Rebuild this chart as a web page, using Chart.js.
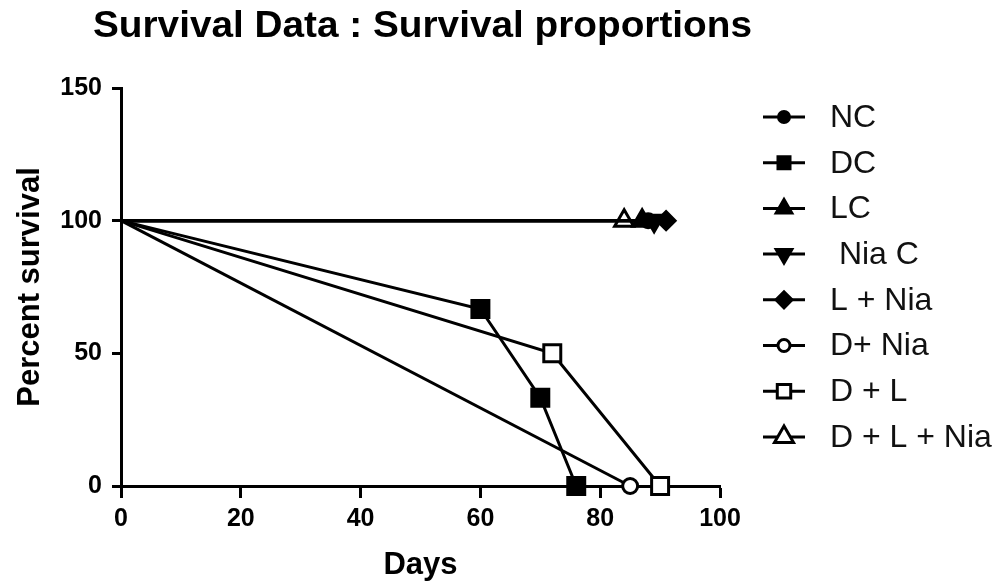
<!DOCTYPE html>
<html>
<head>
<meta charset="utf-8">
<title>Survival proportions</title>
<script src="https://cdn.jsdelivr.net/npm/chart.js@4/dist/chart.umd.min.js"></script>
<style>
  html, body { margin: 0; padding: 0; background: #fff; }
  #survivalChart { display: block; }
</style>
</head>
<body>
<canvas id="survivalChart" width="1006" height="586"></canvas>
<script>
'use strict';

const chartTitle = 'Survival Data : Survival proportions';

// series names, as in the legend
const seriesNames = ['NC', 'DC', 'LC', ' Nia C', 'L + Nia', 'D+ Nia', 'D + L', 'D + L + Nia'];

// days / percent survival for each group
const ncDays = [0, 88];
const ncSurvival = [100, 100];
const dcDays = [0, 60, 70, 76];
const dcSurvival = [100, 66.7, 33.3, 0];
const lcDays = [0, 87];
const lcSurvival = [100, 100];
const niaDays = [0, 89];
const niaSurvival = [100, 100];
const lNiaDays = [0, 91];
const lNiaSurvival = [100, 100];
const dNiaDays = [0, 85];
const dNiaSurvival = [100, 0];
const dlDays = [0, 72, 90];
const dlSurvival = [100, 50, 0];
const dlNiaDays = [0, 84];
const dlNiaSurvival = [100, 100];

// axis ticks
const xTicks = [0, 20, 40, 60, 80, 100];
const yTicks = [0, 50, 100, 150];

const FONT = 'Arial, "Liberation Sans", sans-serif';

// marker look for every group (same order as seriesNames), lr = size in the legend
const markers = [
  {style: 'circle',   fill: '#000', r: 7,   lr: 5.5, rot: 0},
  {style: 'rect',     fill: '#000', r: 12,  lr: 8.5, rot: 0},
  {style: 'triangle', fill: '#000', r: 11,  lr: 9,   rot: 0},
  {style: 'triangle', fill: '#000', r: 11,  lr: 9,   rot: 180},
  {style: 'rectRot',  fill: '#000', r: 9,   lr: 8,   rot: 0},
  {style: 'circle',   fill: '#fff', r: 7.5, lr: 6,   rot: 0},
  {style: 'rect',     fill: '#fff', r: 12,  lr: 9.5, rot: 0},
  {style: 'triangle', fill: '#fff', r: 11,  lr: 11,  rot: 0}
];

const allDays = [ncDays, dcDays, lcDays, niaDays, lNiaDays, dNiaDays, dlDays, dlNiaDays];
const allSurvival = [ncSurvival, dcSurvival, lcSurvival, niaSurvival, lNiaSurvival, dNiaSurvival, dlSurvival, dlNiaSurvival];

const datasets = seriesNames.map((name, i) => {
  const m = markers[i];
  return {
    label: name,
    data: allDays[i].map((d, k) => ({x: d, y: allSurvival[i][k]})),
    borderColor: '#000',
    borderWidth: 3,
    fill: false,
    tension: 0,
    pointStyle: m.style,
    pointRotation: m.rot,
    pointBackgroundColor: m.fill,
    pointBorderColor: '#000',
    pointBorderWidth: 3,
    // no marker at day 0
    pointRadius: (c) => c.dataIndex === 0 ? 0 : m.r,
    pointHoverRadius: (c) => c.dataIndex === 0 ? 0 : m.r,
    clip: false
  };
});

// the title is wider than the plot area, so it is drawn here instead of the title plugin
const wideTitle = {
  id: 'wideTitle',
  afterDraw(chart){
    const ctx = chart.ctx;
    ctx.save();
    ctx.font = 'bold 36px ' + FONT;
    const w = ctx.measureText(chartTitle).width;
    ctx.translate(93, 37);
    ctx.scale(659 / w, 1);
    ctx.fillStyle = '#000';
    ctx.textBaseline = 'alphabetic';
    ctx.textAlign = 'left';
    ctx.fillText(chartTitle, 0, 0);
    ctx.restore();
  }
};

// legend at the right: short line with the marker in the middle
const sideLegend = {
  id: 'sideLegend',
  afterDraw(chart){
    const ctx = chart.ctx;
    chart.data.datasets.forEach((ds, i) => {
      const m = markers[i];
      const y = 117 + i * 45.7;
      ctx.save();
      ctx.strokeStyle = '#000';
      ctx.lineWidth = 3;
      ctx.beginPath();
      ctx.moveTo(763, y);
      ctx.lineTo(805, y);
      ctx.stroke();
      ctx.fillStyle = m.fill;
      Chart.helpers.drawPoint(ctx, {pointStyle: m.style, rotation: m.rot, radius: m.lr, borderWidth: 3}, 784, y);
      ctx.fillStyle = '#111';
      ctx.font = '32px ' + FONT;
      ctx.textBaseline = 'middle';
      ctx.textAlign = 'left';
      ctx.fillText(ds.label, 830, y + 1);
      ctx.restore();
    });
  }
};

const chart = new Chart(document.getElementById('survivalChart'), {
  type: 'line',
  data: {datasets: datasets},
  options: {
    responsive: false,
    animation: false,
    events: [],
    layout: {padding: {left: 0, right: 286, top: 88, bottom: 0}},
    plugins: {
      legend: {display: false},
      tooltip: {enabled: false},
      title: {display: false}
    },
    scales: {
      x: {
        type: 'linear',
        min: xTicks[0],
        max: xTicks[xTicks.length - 1],
        afterBuildTicks: (s) => { s.ticks = xTicks.map(v => ({value: v})); },
        afterFit: (s) => { s.height = 100; },
        border: {color: '#000', width: 3},
        grid: {drawOnChartArea: false, drawTicks: true, tickLength: 12, tickWidth: 3, tickColor: '#000'},
        ticks: {color: '#000', padding: 6, font: {family: FONT, size: 25, weight: 'bold'}},
        title: {display: true, text: 'Days', color: '#000', padding: {top: 0, bottom: 2},
                font: {family: FONT, size: 31, weight: 'bold'}}
      },
      y: {
        type: 'linear',
        min: yTicks[0],
        max: yTicks[yTicks.length - 1],
        afterBuildTicks: (s) => { s.ticks = yTicks.map(v => ({value: v})); },
        afterFit: (s) => { s.width = 121; },
        border: {color: '#000', width: 3},
        grid: {drawOnChartArea: false, drawTicks: true, tickLength: 9, tickWidth: 3, tickColor: '#000'},
        ticks: {color: '#000', padding: 10, font: {family: FONT, size: 25, weight: 'bold'}},
        title: {display: true, text: 'Percent survival', color: '#000', padding: {top: 12, bottom: 0},
                font: {family: FONT, size: 31, weight: 'bold'}}
      }
    }
  },
  plugins: [wideTitle, sideLegend]
});
</script>
</body>
</html>
